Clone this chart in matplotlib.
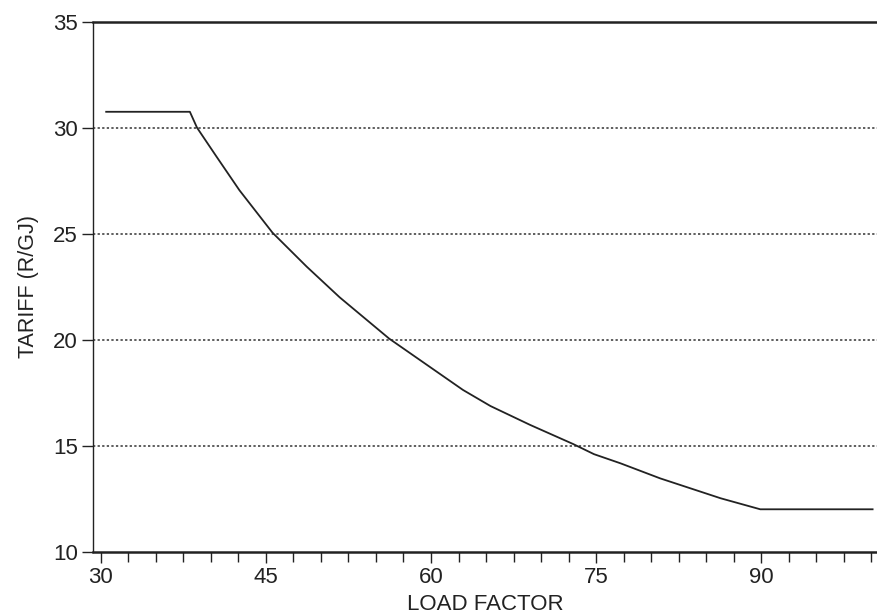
import matplotlib
matplotlib.use("Agg")
import matplotlib.pyplot as plt
from matplotlib.ticker import MultipleLocator

plt.rcParams['font.family'] = ['Liberation Sans', 'DejaVu Sans']

# tariff curve
load_factor = [30.5, 38.1, 38.75, 40.5, 42.6, 45.6, 48.7, 51.7, 56.2,
               62.9, 65.4, 69.0, 72.9, 74.8, 77.2, 80.8, 86.3, 89.9, 100.1]
tariff = [30.75, 30.75, 30.0, 28.65, 27.05, 25.05, 23.45, 22.0, 20.05,
          17.63, 16.87, 15.98, 15.08, 14.6, 14.17, 13.46, 12.52, 12.0, 12.0]

x_ticks = [30, 45, 60, 75, 90]
y_ticks = [10, 15, 20, 25, 30, 35]
grid_levels = [15, 20, 25, 30]

fig = plt.figure(figsize=(8.77, 6.16), dpi=100)
ax = fig.add_axes([0.106, 0.1044, 0.894, 0.8604])

for g in grid_levels:
    ax.axhline(g, color='#333333', linewidth=1.1, linestyle=(0, (1.5, 1.5)), zorder=1)

ax.plot(load_factor, tariff, color='#222222', linewidth=1.3, zorder=3)

ax.set_xlim(29.3, 100.5)
ax.set_ylim(10, 35)
ax.set_xticks(x_ticks)
ax.xaxis.set_minor_locator(MultipleLocator(2.5))
ax.set_yticks(y_ticks)

ax.spines['right'].set_visible(False)
ax.spines['top'].set_linewidth(1.8)
ax.spines['bottom'].set_linewidth(1.8)
ax.spines['left'].set_linewidth(1.0)
for s in ax.spines.values():
    s.set_color('#222222')

ax.tick_params(axis='x', which='major', direction='out', length=8, width=1.0,
               labelsize=16, pad=3, colors='#222222')
ax.tick_params(axis='x', which='minor', direction='out', length=7, width=1.0,
               colors='#222222')
ax.tick_params(axis='y', which='major', direction='out', length=8, width=1.0,
               labelsize=16, pad=3, colors='#222222')

ax.set_xlabel('LOAD FACTOR', fontsize=16, color='#222222', labelpad=4)
ax.set_ylabel('TARIFF (R/GJ)', fontsize=15.5, color='#222222', labelpad=10)

fig.savefig('out.png', dpi=100)
